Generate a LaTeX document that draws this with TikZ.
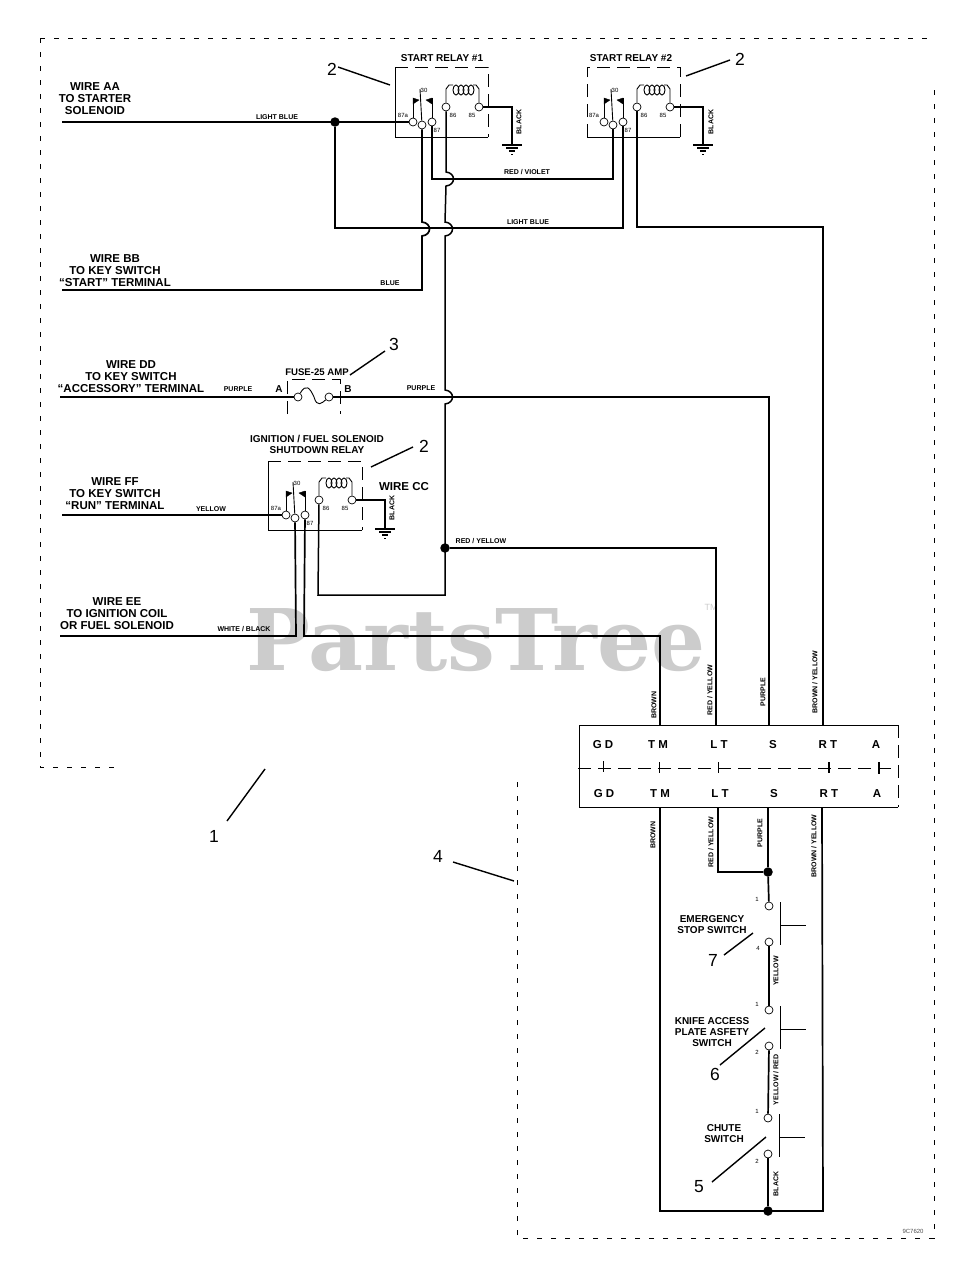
\documentclass[tikz,border=0pt]{standalone}
\usepackage{fontspec}
\setmainfont{Liberation Sans}
\newfontfamily\markfont{DejaVu Serif}
\usetikzlibrary{calc}
\tikzset{
	wire/.style={line width=1.7pt},
	thinwire/.style={line width=1.5pt},
	boxline/.style={line width=0.9pt},
	framedash/.style={line width=0.9pt,dash pattern=on 5pt off 9pt},
	boxdash/.style={line width=0.9pt,dash pattern=on 13pt off 7pt},
	leader/.style={line width=1.4pt},
	term/.style={circle,draw,line width=0.7pt,fill=white,inner sep=0pt,minimum size=8pt},
	dot/.style={circle,fill=black,inner sep=0pt,minimum size=9.5pt},
	wirename/.style={font=\bfseries\fontsize{11.5}{12}\selectfont,align=center,inner sep=0pt},
	relayname/.style={font=\bfseries\fontsize{10}{11}\selectfont,align=center,inner sep=0pt},
	colour/.style={font=\bfseries\fontsize{7}{8}\selectfont,inner sep=0pt},
	pin/.style={font=\fontsize{6}{7}\selectfont,inner sep=0pt},
	blocklabel/.style={font=\bfseries\fontsize{11.5}{12}\selectfont,inner sep=0pt},
	callout/.style={font=\fontsize{17.5}{18}\selectfont,inner sep=0pt},
}
% vertical wire jumping over a horizontal one
\def\hop#1#2{-- (#1,#2-7) .. controls (#1+10,#2-6) and (#1+10,#2+6) .. (#1,#2+7)}
% relay contacts and coil, pins are named #1a #1c #1n #1x #1y
\def\relay#1(#2,#3){
	\begin{scope}[shift={(#2,#3)}]
		\node[term] (#1a) at (18,56) {};
		\node[term] (#1c) at (27,59) {};
		\node[term] (#1n) at (37,56) {};
		\node[term] (#1x) at (51,41) {};
		\node[term] (#1y) at (84,41) {};
		\draw[boxline] (#1a) -- (18,32);
		\draw[boxline] (#1c) -- (25,23);
		\draw[boxline] (#1n) -- (37,32);
		\draw[fill=black] (18,32) -- (24,34) -- (18,38) -- cycle;
		\draw[fill=black] (37,32) -- (31,34) -- (37,38) -- cycle;
		\draw[boxline] (#1x) -- (51,23) -- (54,19) -- (58,19);
		\draw[boxline] (#1y) -- (84,23) -- (81,19) -- (78,19);
		\draw[boxline] (61,24) ellipse (3 and 5);
		\draw[boxline] (66,24) ellipse (3 and 5);
		\draw[boxline] (71,24) ellipse (3 and 5);
		\draw[boxline] (76,24) ellipse (3 and 5);
		\node[pin] (#1pa) at (8,49) {87a};
		\node[pin] (#1pc) at (29,24) {30};
		\node[pin] (#1pn) at (42,64) {87};
		\node[pin] (#1px) at (58,49) {86};
		\node[pin] (#1py) at (77,49) {85};
	\end{scope}
}
\def\earth(#1,#2){
	\draw[line width=1.4pt] (#1-10,#2) -- (#1+10,#2);
	\draw[line width=1.2pt] (#1-6,#2+3) -- (#1+6,#2+3);
	\draw[line width=1.2pt] (#1-3,#2+6) -- (#1+3,#2+6);
	\draw[line width=1pt] (#1-0.8,#2+9) -- (#1+0.8,#2+9);
}
% switch with pins #1a #1b and its bar
\def\switchbar#1(#2,#3){
	\node[term] (#1a) at (#2,#3) {};
	\node[term] (#1b) at (#2,#3+36) {};
	\draw[boxline] (#2+11,#3-4) -- (#2+11,#3+39);
	\draw[boxline] (#2+11,#3+19) -- (#2+37,#3+19);
}

\begin{document}
\begin{tikzpicture}[x=1pt,y=-1pt]
	\useasboundingbox (0,0) rectangle (977,1280);
	%%%%% WATERMARK %%%%%
	\node[text=black!20,inner sep=0pt,font=\markfont\bfseries\fontsize{85}{90}\selectfont] (mark) at (476,640) {PartsTree};
	\node[text=black!20,inner sep=0pt,font=\fontsize{9}{10}\selectfont] (markTM) at (711,607) {TM};
	
	%%%%% DASHED FRAME %%%%%
	\draw[framedash] (40,38) -- (930,38);
	\draw[framedash] (40,38) -- (40,767) -- (120,767);
	\draw[framedash] (934,90) -- (934,1238) -- (517,1238) -- (517,777);
	\node[pin,text=black!70] (drawingno) at (913,1231) {9C7620};
	
	%%%%% RELAYS %%%%%
	\draw[boxline] (488,137) -- (395,137) -- (395,67);
	\draw[boxdash] (395,67) -- (488,67) -- (488,137);
	\node[relayname] (title1) at (442,58) {START RELAY \#1};
	\relay{one}(395,66)
	
	\draw[boxline] (680,137) -- (587,137);
	\draw[boxdash] (587,137) -- (587,67) -- (680,67) -- (680,137);
	\node[relayname] (title2) at (631,58) {START RELAY \#2};
	\relay{two}(586,66)
	
	\draw[boxline] (362,530) -- (268,530) -- (268,461);
	\draw[boxdash] (268,461) -- (362,461) -- (362,530);
	\node[relayname] (title3) at (317,444) {IGNITION / FUEL SOLENOID\\SHUTDOWN RELAY};
	\relay{run}(268,459)
	
	%%%%% GROUNDS %%%%%
	\draw[wire] (oney) -- (512,107) -- (512,145);
	\earth(512,145)
	\node[colour,rotate=90] (black1) at (519,122) {BLACK};
	\draw[wire] (twoy) -- (703,107) -- (703,145);
	\earth(703,145)
	\node[colour,rotate=90] (black2) at (711,122) {BLACK};
	\draw[wire] (runy) -- (385,500) -- (385,529);
	\earth(385,529)
	\node[colour,rotate=90] (black3) at (392,508) {BLACK};
	\node[font=\bfseries\fontsize{11.5}{12}\selectfont,inner sep=0pt] (wirecc) at (404,487) {WIRE CC};
	
	%%%%% TERMINAL BLOCK %%%%%
	\draw[boxline] (898,807) -- (579,807) -- (579,725) -- (898,725);
	\draw[boxdash] (898,725) -- (898,807);
	\draw[boxdash] (578,768) -- (898,768);
	\node[blocklabel] (gdtop) at (603,745) {G D};
	\node[blocklabel] (tmtop) at (658,745) {T M};
	\node[blocklabel] (lttop) at (719,745) {L T};
	\node[blocklabel] (stop) at (773,745) {S};
	\node[blocklabel] (rttop) at (828,745) {R T};
	\node[blocklabel] (atop) at (876,745) {A};
	\node[blocklabel] (gdbot) at (604,794) {G D};
	\node[blocklabel] (tmbot) at (660,794) {T M};
	\node[blocklabel] (ltbot) at (720,794) {L T};
	\node[blocklabel] (sbot) at (774,794) {S};
	\node[blocklabel] (rtbot) at (829,794) {R T};
	\node[blocklabel] (abot) at (877,794) {A};
	\draw[boxline] (603,761) -- (603,772);
	\draw[boxline] (659,762) -- (659,773);
	\draw[boxline] (718,762) -- (718,773);
	\draw[wire] (829,762) -- (829,773);
	\draw[wire] (879,762) -- (879,774);
	\coordinate (tmup) at (660,725);
	\coordinate (ltup) at (716,725);
	\coordinate (sup1) at (769,725);
	\coordinate (rtup) at (823,725);
	\coordinate (tmdown) at (660,807);
	\coordinate (ltdown) at (718,807);
	\coordinate (sdown) at (768,807);
	\coordinate (rtdown) at (822,807);
	
	%%%%% FUSE %%%%%
	\node[term] (fusea) at (298,397) {};
	\node[term] (fuseb) at (329,397) {};
	\draw[boxline] (fusea) .. controls (306,383) and (310,388) .. (314,397) .. controls (317,408) and (322,403) .. (fuseb);
	\draw[boxdash] (287,414) -- (287,379) -- (340,379) -- (340,414);
	\node[relayname,font=\bfseries\fontsize{9.6}{11}\selectfont] (fusename) at (317,372) {FUSE-25 AMP};
	\node[relayname] (fusepa) at (279,389) {A};
	\node[relayname] (fusepb) at (348,389) {B};
	
	%%%%% WIRES %%%%%
	\coordinate (aa) at (62,122);
	\coordinate (bb) at (62,290);
	\coordinate (dd) at (60,397);
	\coordinate (ff) at (62,515);
	\coordinate (ee) at (60,636);
	\node[dot] (lightblue) at (335,122) {};
	\node[dot] (redyellow) at (445,548) {};
	\node[dot] (switchfeed) at (768,872) {};
	\node[dot] (earthjoin) at (768,1211) {};
	
	\draw[wire] (aa) -- (onea);
	\draw[wire] (lightblue) -- (335,228) -- (623,228) -- (twon);
	\draw[wire] (onec) \hop{422}{229} -- (422,290) -- (bb);
	\draw[wire] (onen) -- (432,179) -- (613,179) -- (twoc);
	\draw[thinwire] (onex) \hop{446}{179} \hop{445}{229} \hop{445}{397} -- (445,595) -- (318,595) -- (runx);
	\draw[wire] (redyellow) -- (716,548) -- (ltup);
	\draw[thinwire] (twox) -- (637,227) -- (823,227) -- (rtup);
	\draw[wire] (dd) -- (fusea);
	\draw[wire] (fuseb) -- (769,397) -- (sup1);
	\draw[wire] (ff) -- (runa);
	\draw[wire] (runc) -- (296,636) -- (ee);
	\draw[wire] (runn) -- (304,636) -- (660,636) -- (tmup);
	
	\draw[wire] (tmdown) -- (660,1211) -- (823,1211) -- (rtdown);
	\draw[wire] (ltdown) -- (718,872) -- (switchfeed);
	\draw[wire] (sdown) -- (switchfeed);
	
	%%%%% SWITCHES %%%%%
	\switchbar{stopsw}(769,906)
	\switchbar{knifesw}(769,1010)
	\switchbar{chutesw}(768,1118)
	\draw[wire] (switchfeed) -- (stopswa);
	\draw[wire] (stopswb) -- (knifeswa);
	\draw[wire] (knifeswb) -- (chuteswa);
	\draw[wire] (chuteswb) -- (earthjoin);
	
	\node[relayname] (stopname) at (712,925) {EMERGENCY\\STOP SWITCH};
	\node[relayname] (knifename) at (712,1032) {KNIFE ACCESS\\PLATE ASFETY\\SWITCH};
	\node[relayname] (chutename) at (724,1134) {CHUTE\\SWITCH};
	\node[pin] (stop1) at (757,899) {1};
	\node[pin] (stop4) at (758,948) {4};
	\node[pin] (knife1) at (757,1004) {1};
	\node[pin] (knife2) at (757,1052) {2};
	\node[pin] (chute1) at (757,1111) {1};
	\node[pin] (chute2) at (757,1161) {2};
	
	%%%%% WIRE NAMES %%%%%
	\node[wirename] (nameaa) at (95,99) {WIRE AA\\TO STARTER\\SOLENOID};
	\node[wirename] (namebb) at (115,271) {WIRE BB\\TO KEY SWITCH\\``START'' TERMINAL};
	\node[wirename] (namedd) at (131,377) {WIRE DD\\TO KEY SWITCH\\``ACCESSORY'' TERMINAL};
	\node[wirename] (nameff) at (115,494) {WIRE FF\\TO KEY SWITCH\\``RUN'' TERMINAL};
	\node[wirename] (nameee) at (117,614) {WIRE EE\\TO IGNITION COIL\\OR FUEL SOLENOID};
	
	%%%%% COLOURS %%%%%
	\node[colour] (c1) at (277,117) {LIGHT BLUE};
	\node[colour] (c2) at (528,222) {LIGHT BLUE};
	\node[colour] (c3) at (527,172) {RED / VIOLET};
	\node[colour] (c4) at (390,283) {BLUE};
	\node[colour] (c5) at (238,389) {PURPLE};
	\node[colour] (c6) at (421,388) {PURPLE};
	\node[colour] (c7) at (211,509) {YELLOW};
	\node[colour] (c8) at (244,629) {WHITE / BLACK};
	\node[colour] (c9) at (481,541) {RED / YELLOW};
	\node[colour,rotate=90] (c10) at (654,705) {BROWN};
	\node[colour,rotate=90] (c11) at (710,690) {RED / YELLOW};
	\node[colour,rotate=90] (c12) at (763,692) {PURPLE};
	\node[colour,rotate=90] (c13) at (815,682) {BROWN / YELLOW};
	\node[colour,rotate=90] (c14) at (653,835) {BROWN};
	\node[colour,rotate=90] (c15) at (711,842) {RED / YELLOW};
	\node[colour,rotate=90] (c16) at (760,833) {PURPLE};
	\node[colour,rotate=90] (c17) at (814,846) {BROWN / YELLOW};
	\node[colour,rotate=90] (c18) at (776,971) {YELLOW};
	\node[colour,rotate=90] (c19) at (776,1080) {YELLOW / RED};
	\node[colour,rotate=90] (c20) at (776,1184) {BLACK};
	
	%%%%% CALLOUTS %%%%%
	\node[callout] (no1) at (214,836) {1};
	\coordinate (to1) at (265,769);
	\draw[leader] (no1) ++(13,-15) -- (to1);
	\node[callout] (no2a) at (332,69) {2};
	\coordinate (to2a) at (390,85);
	\draw[leader] (338,67) -- (to2a);
	\node[callout] (no2b) at (740,59) {2};
	\coordinate (to2b) at (686,76);
	\draw[leader] (730,60) -- (to2b);
	\node[callout] (no2c) at (424,446) {2};
	\coordinate (to2c) at (371,467);
	\draw[leader] (413,447) -- (to2c);
	\node[callout] (no3) at (394,344) {3};
	\coordinate (to3) at (350,375);
	\draw[leader] (385,351) -- (to3);
	\node[callout] (no4) at (438,856) {4};
	\coordinate (to4) at (514,881);
	\draw[leader] (453,862) -- (to4);
	\node[callout] (no5) at (699,1187) {5};
	\coordinate (to5) at (766,1137);
	\draw[leader] (712,1182) -- (to5);
	\node[callout] (no6) at (715,1074) {6};
	\coordinate (to6) at (765,1028);
	\draw[leader] (720,1065) -- (to6);
	\node[callout] (no7) at (713,960) {7};
	\coordinate (to7) at (753,933);
	\draw[leader] (724,955) -- (to7);
\end{tikzpicture}
\end{document}
